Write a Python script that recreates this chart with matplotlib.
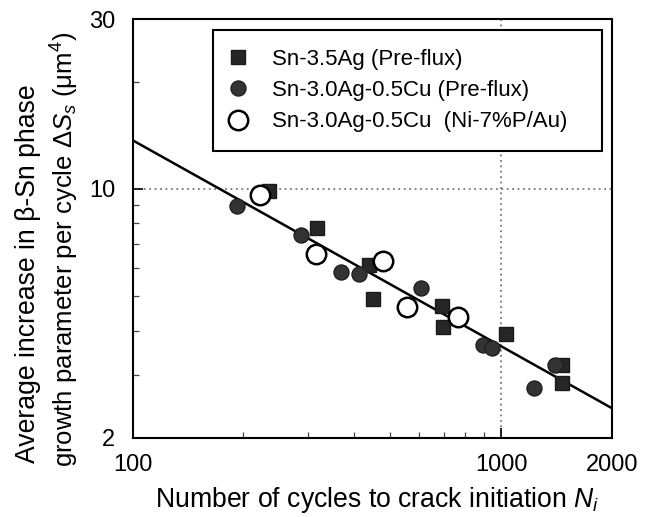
import numpy as np
import matplotlib
matplotlib.use('Agg')
import matplotlib.pyplot as plt
from matplotlib.ticker import LogLocator, FixedLocator, FixedFormatter, NullFormatter

plt.rcParams['font.family'] = ['Liberation Sans', 'DejaVu Sans']
plt.rcParams['mathtext.fontset'] = 'custom'
plt.rcParams['mathtext.rm'] = 'Liberation Sans'
plt.rcParams['mathtext.it'] = 'Liberation Sans:italic'

# Sn-3.5Ag (Pre-flux)
sn_ag_N = [235, 317, 439, 450, 692, 697, 1029, 1460, 1460]
sn_ag_dS = [9.88, 7.75, 6.11, 4.91, 4.70, 4.08, 3.90, 3.20, 2.84]

# Sn-3.0Ag-0.5Cu (Pre-flux)
sac_pre_N = [192, 286, 367, 412, 605, 895, 943, 1401, 1231]
sac_pre_dS = [8.93, 7.40, 5.85, 5.75, 5.26, 3.64, 3.57, 3.21, 2.76]

# Sn-3.0Ag-0.5Cu (Ni-7%P/Au)
sac_ni_N = [222, 315, 479, 555, 766]
sac_ni_dS = [9.61, 6.56, 6.28, 4.65, 4.37]

# fitted line end points
fit_N = [100, 2000]
fit_dS = [13.7, 2.42]

x_ticks = [100, 1000, 2000]
y_ticks = [2, 10, 30]

fig = plt.figure(figsize=(6.57, 5.17), dpi=100)
ax = fig.add_axes([0.2017, 0.1534, 0.7298, 0.8098])
ax.set_xscale('log')
ax.set_yscale('log')
ax.set_xlim(100, 2000)
ax.set_ylim(2, 30)

ax.plot(fit_N, fit_dS, color='black', lw=1.8, zorder=2)
ax.plot(sn_ag_N, sn_ag_dS, ls='none', marker='s', ms=9.4, mfc='#262626',
        mec='#1a1a1a', mew=1, label='Sn-3.5Ag (Pre-flux)', zorder=3)
ax.plot(sac_pre_N, sac_pre_dS, ls='none', marker='o', ms=10.8, mfc='#333333',
        mec='#1f1f1f', mew=1, label='Sn-3.0Ag-0.5Cu (Pre-flux)', zorder=3)
ax.plot(sac_ni_N, sac_ni_dS, ls='none', marker='o', ms=14, mfc='white',
        mec='black', mew=1.8, label='Sn-3.0Ag-0.5Cu  (Ni-7%P/Au)', zorder=4)

ax.xaxis.set_major_locator(FixedLocator(x_ticks))
ax.xaxis.set_major_formatter(FixedFormatter([str(v) for v in x_ticks]))
ax.xaxis.set_minor_locator(LogLocator(base=10, subs=np.arange(2, 10)))
ax.xaxis.set_minor_formatter(NullFormatter())
ax.yaxis.set_major_locator(FixedLocator(y_ticks))
ax.yaxis.set_major_formatter(FixedFormatter([str(v) for v in y_ticks]))
ax.yaxis.set_minor_locator(LogLocator(base=10, subs=np.arange(2, 10)))
ax.yaxis.set_minor_formatter(NullFormatter())

ax.tick_params(which='both', direction='in', top=False, right=False, labelsize=17)
ax.tick_params(which='major', length=7, width=1.2)
ax.tick_params(which='minor', length=4.5, width=0.9, color='#444444')
ax.tick_params(axis='x', which='major', pad=12)
ax.tick_params(axis='y', which='major', pad=12.5)

ax.grid(True, which='major', color='#777777', ls=(0, (1, 2)), lw=1.3)
ax.set_axisbelow(True)
for s in ax.spines.values():
    s.set_linewidth(1.5)
    s.set_color('black')

leg = ax.legend(loc='upper left', bbox_to_anchor=(0.1673, 0.6847, 0.8112, 0.289),
                mode='expand', fontsize=16, borderpad=0.85, labelspacing=0.46,
                handlelength=0.61, handletextpad=1.19, borderaxespad=0,
                fancybox=False, framealpha=1, edgecolor='black')
leg.get_frame().set_linewidth(1.5)

fig.text(0.574, 0.0193, r'Number of cycles to crack initiation $N_i$',
         fontsize=19.2, ha='center', va='baseline')
fig.text(0.043, 0.1044, 'Average increase in β-Sn phase',
         fontsize=19.2, rotation=90, ha='center', va='bottom')
fig.text(0.099, 0.0967, r'growth parameter per cycle Δ$S_s$ (μm$^4$)',
         fontsize=18.5, rotation=90, ha='center', va='bottom')

fig.savefig('out.png', dpi=100)
